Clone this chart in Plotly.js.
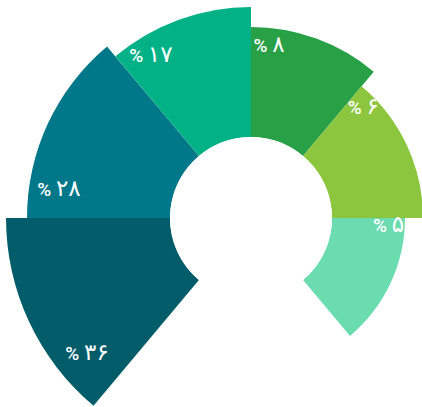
<!DOCTYPE html>
<html>
<head>
<meta charset="utf-8">
<script src="https://cdn.plot.ly/plotly-3.0.1.min.js"></script>
<style>
html,body{margin:0;padding:0;background:#fff;overflow:hidden;width:422px;height:407px;position:relative;}
#chart{position:absolute;left:1px;top:-32px;width:500px;height:500px;}
</style>
</head>
<body>
<div id="chart"></div>
<script>
// Data
var shares      = [36, 28, 17, 8, 6, 5];                 // percent labels
var barLength   = [164, 143, 130, 110, 91, 73];          // radial length of each sector
var sectorMid   = [205, 155, 110, 70, 25, -25];          // angular centre (deg)
var sectorSpan  = [50, 50, 40, 40, 50, 50];              // angular width (deg)
var labelR      = [133, 113, 108, 91, 75, 57];           // label radial position
var labelTheta  = [220, 172, 122, 84, 44, -4];           // label angle (deg)
var colors      = ['#025c6a', '#01778a', '#03b187', '#27a046', '#8cc63f', '#6bdcb0'];

function toPersian(n) {
  var d = '۰۱۲۳۴۵۶۷۸۹';
  return String(n).replace(/[0-9]/g, function (c) { return d[+c]; });
}
var labels = shares.map(function (v) {
  return '% <span style="font-size:23px;font-family:DejaVu Sans">' + toPersian(v) + '</span>';
});

var bars = {
  type: 'barpolar',
  r: barLength,
  theta: sectorMid,
  width: sectorSpan,
  base: 0,
  marker: { color: colors, line: { width: 0 } },
  hoverinfo: 'skip'
};

var texts = {
  type: 'scatterpolar',
  mode: 'text',
  r: labelR,
  theta: labelTheta,
  text: labels,
  textposition: 'middle center',
  cliponaxis: false,
  textfont: { family: 'Roboto, DejaVu Sans', size: 19, color: '#ffffff', weight: 500 },
  hoverinfo: 'skip'
};

var layout = {
  width: 500,
  height: 500,
  margin: { l: 0, r: 0, t: 0, b: 0, pad: 0 },
  paper_bgcolor: 'rgba(0,0,0,0)',
  plot_bgcolor: 'rgba(0,0,0,0)',
  showlegend: false,
  polar: {
    domain: { x: [0, 1], y: [0, 1] },
    hole: 81 / 250,
    bgcolor: 'rgba(0,0,0,0)',
    bargap: 0,
    radialaxis: { visible: false, range: [0, 169], showgrid: false },
    angularaxis: { visible: false, showgrid: false, rotation: 0, direction: 'counterclockwise' }
  }
};

Plotly.newPlot('chart', [bars, texts], layout, { displayModeBar: false, staticPlot: true });
</script>
</body>
</html>
